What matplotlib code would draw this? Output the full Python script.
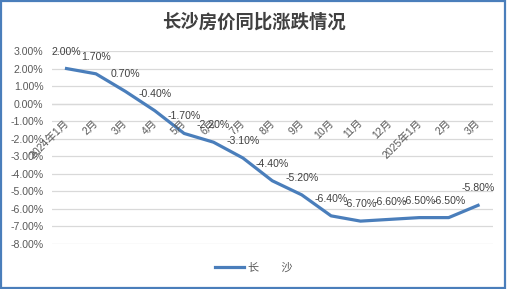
import matplotlib
matplotlib.use('Agg')
import matplotlib.pyplot as plt
from matplotlib.patches import Rectangle
from matplotlib.ticker import FuncFormatter

plt.rcParams['font.family'] = ['Liberation Sans', 'Noto Sans CJK SC', 'DejaVu Sans']

months = ['2024年1月', '2月', '3月', '4月', '5月', '6月', '7月', '8月', '9月',
          '10月', '11月', '12月', '2025年1月', '2月', '3月']
yoy = [2.0, 1.7, 0.7, -0.4, -1.7, -2.2, -3.1, -4.4, -5.2,
       -6.4, -6.7, -6.6, -6.5, -6.5, -5.8]
series_name = '长\u3000\u3000沙'
title = '长沙房价同比涨跌情况'

blue = '#4A7EBB'
grid = '#D9D9D9'

fig = plt.figure(figsize=(5.08, 2.89), dpi=100)
ax = fig.add_axes([0.102, 0.156, 0.868, 0.6675])

x = list(range(len(months)))
line, = ax.plot(x, yoy, color=blue, linewidth=2.3, solid_joinstyle='round',
                label=series_name, zorder=3)

ax.set_xlim(-0.5, len(months) - 0.5)
ax.set_ylim(-8, 3)
ax.set_yticks(range(-8, 4))
ax.yaxis.set_major_formatter(FuncFormatter(lambda v, p: f'{v:.2f}%'))
ax.tick_params(axis='y', length=0, labelsize=7.6, colors='#595959', pad=6)
ax.set_xticks([])
ax.grid(axis='y', color=grid, linewidth=0.9)
ax.set_axisbelow(True)
for s in ax.spines.values():
    s.set_visible(False)
ax.axhline(0, color=grid, linewidth=0.9, zorder=1)

# category labels sit under the zero line, rotated
for i, m in enumerate(months):
    ax.annotate(m, (i, 0), xytext=(4, -14), textcoords='offset pixels',
                rotation=45, ha='right', va='top', fontsize=7.6,
                color='#595959')

# data labels above points
for i, v in enumerate(yoy):
    ax.annotate(f'{v:.2f}%', (i, v), xytext=(0, 12), textcoords='offset pixels',
                ha='center', va='bottom', fontsize=7.6, color='#404040')

fig.text(0.5, 0.923, title, ha='center', va='center', fontsize=13.2,
         fontweight='bold', color='#404040')

fig.legend(handles=[line], loc='center', bbox_to_anchor=(0.5, 0.073),
           frameon=False, fontsize=8, handlelength=2.6, handletextpad=0.4,
           labelcolor='#595959')

fig.patches.append(Rectangle((0.001, 0.004), 0.994, 0.994, transform=fig.transFigure,
                             fill=False, edgecolor=blue, linewidth=1.6))

fig.savefig('out.png', dpi=100)
